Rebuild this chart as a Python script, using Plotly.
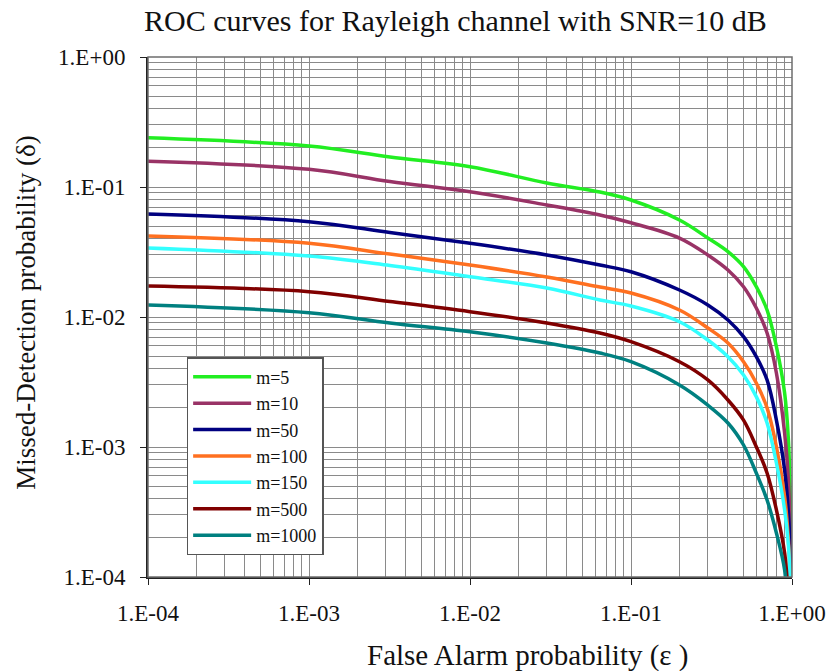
import plotly.graph_objects as go

# ---- data (false-alarm probability, missed-detection probability) ----
labels = ["m=5", "m=10", "m=50", "m=100", "m=150", "m=500", "m=1000"]
colors = ["#22ee22", "#993366", "#000080", "#ff7020", "#33ffff", "#800000", "#008080"]

pfa_m5 = [1e-4, 1e-3, 3.18e-3, 1e-2, 0.03, 0.0641, 0.1, 0.2, 0.3, 0.4, 0.5, 0.6, 0.7, 0.8, 0.9, 0.95, 0.98, 0.995]
pmd_m5 = [0.239, 0.2067, 0.170, 0.1433, 0.1074, 0.0915, 0.0794, 0.0557, 0.0405, 0.0318, 0.0244, 0.0171, 0.01132, 0.00591, 0.00260, 0.00113, 0.0003, 1e-5]

pfa_m10 = [1e-4, 1e-3, 3.18e-3, 1e-2, 0.03, 0.0641, 0.1, 0.2, 0.3, 0.4, 0.5, 0.6, 0.7, 0.8, 0.9, 0.95, 0.98, 0.995]
pmd_m10 = [0.158, 0.1368, 0.1102, 0.0920, 0.0727, 0.0609, 0.0531, 0.0405, 0.0300, 0.0230, 0.0171, 0.01173, 0.00753, 0.00371, 0.00128, 0.000557, 0.00015, 1e-5]

pfa_m50 = [1e-4, 1e-3, 3.18e-3, 1e-2, 0.03, 0.0641, 0.1, 0.2, 0.3, 0.4, 0.5, 0.6, 0.7, 0.8, 0.9, 0.95, 0.98, 0.995]
pmd_m50 = [0.0620, 0.0541, 0.0447, 0.0369, 0.0300, 0.0251, 0.0223, 0.01613, 0.01237, 0.00948, 0.00706, 0.00495, 0.00328, 0.00161, 0.000665, 0.000311, 0.00012, 1e-5]

pfa_m100 = [1e-4, 1e-3, 3.18e-3, 1e-2, 0.03, 0.0641, 0.1, 0.2, 0.3, 0.4, 0.5, 0.6, 0.7, 0.8, 0.9, 0.95, 0.98, 0.995]
pmd_m100 = [0.0420, 0.0369, 0.0305, 0.0251, 0.0203, 0.0170, 0.0153, 0.01132, 0.00823, 0.00631, 0.00453, 0.00311, 0.00200, 0.001005, 0.000415, 0.000193, 0.00008, 1e-5]

pfa_m150 = [1e-4, 1e-3, 3.18e-3, 1e-2, 0.03, 0.0641, 0.1, 0.2, 0.3, 0.4, 0.5, 0.6, 0.7, 0.8, 0.9, 0.95, 0.98, 0.995]
pmd_m150 = [0.0340, 0.0294, 0.0249, 0.0204, 0.0167, 0.01351, 0.01215, 0.00920, 0.00665, 0.00495, 0.00358, 0.00244, 0.00153, 0.000753, 0.000328, 0.000176, 0.00007, 1e-5]

pfa_m500 = [1e-4, 1e-3, 3.18e-3, 1e-2, 0.03, 0.0641, 0.1, 0.2, 0.3, 0.4, 0.5, 0.6, 0.7, 0.8, 0.9, 0.94, 0.97]
pmd_m500 = [0.0173, 0.01565, 0.01316, 0.01099, 0.0090, 0.00753, 0.00646, 0.00453, 0.00328, 0.00230, 0.00161, 0.001005, 0.000631, 0.000328, 0.000153, 0.00008, 1e-5]

pfa_m1000 = [1e-4, 1e-3, 3.18e-3, 1e-2, 0.03, 0.0641, 0.1, 0.2, 0.3, 0.4, 0.5, 0.6, 0.7, 0.8, 0.9, 0.93, 0.96]
pmd_m1000 = [0.01237, 0.01079, 0.0090, 0.0077, 0.0063, 0.00528, 0.00453, 0.00300, 0.00210, 0.00153, 0.001036, 0.000631, 0.000391, 0.000218, 0.000113, 0.00006, 1e-5]

pfa_all = [pfa_m5, pfa_m10, pfa_m50, pfa_m100, pfa_m150, pfa_m500, pfa_m1000]
pmd_all = [pmd_m5, pmd_m10, pmd_m50, pmd_m100, pmd_m150, pmd_m500, pmd_m1000]

tick_vals = [1e-4, 1e-3, 1e-2, 1e-1, 1]
tick_text = ["1.E-04", "1.E-03", "1.E-02", "1.E-01", "1.E+00"]

FONT = "Liberation Serif"
GRID = "#8a8a8a"

fig = go.Figure()
for lab, col, xs, ys in zip(labels, colors, pfa_all, pmd_all):
    fig.add_trace(go.Scatter(x=xs, y=ys, mode="lines", name=lab,
                             line=dict(color=col, width=3.5, shape="spline", smoothing=1.0)))

axis_common = dict(
    type="log", range=[-4, 0], tickvals=tick_vals, ticktext=tick_text,
    showgrid=True, gridcolor=GRID, gridwidth=1,
    minor=dict(dtick="D1", showgrid=True, gridcolor=GRID, gridwidth=1, ticks=""),
    showline=True, linecolor="#222222", linewidth=2,
    ticks="outside", ticklen=6, tickcolor="#222222", tickwidth=1,
    tickfont=dict(family=FONT, size=23, color="#111111"),
    zeroline=False, automargin=False,
)

fig.update_xaxes(**axis_common, ticklabelstandoff=8)
fig.update_yaxes(**axis_common, ticklabelstandoff=10)

fig.add_shape(type="rect", xref="paper", yref="paper", x0=0, y0=0, x1=1, y1=1,
              line=dict(color="#6e6e6e", width=1.5), layer="above")

fig.update_layout(
    width=829, height=671,
    margin=dict(l=148, r=37, t=57, b=94, autoexpand=False),
    paper_bgcolor="white", plot_bgcolor="white",
    font=dict(family=FONT, color="#111111"),
    showlegend=True,
    legend=dict(x=0.06, y=0.423, xanchor="left", yanchor="top",
                bgcolor="white", bordercolor="#555555", borderwidth=1.5,
                font=dict(family=FONT, size=18, color="#111111"),
                itemwidth=58, tracegroupgap=0),
    annotations=[
        dict(text="ROC curves for Rayleigh channel with SNR=10 dB", xref="paper", yref="paper",
             x=0.477, y=1, yshift=37, xanchor="center", yanchor="middle", showarrow=False,
             font=dict(family=FONT, size=30, color="#111111")),
        dict(text="False Alarm probability (ε )", xref="paper", yref="paper",
             x=0.59, y=0, yshift=-78, xanchor="center", yanchor="middle", showarrow=False,
             font=dict(family=FONT, size=29, color="#111111")),
        dict(text="Missed-Detection probability (δ)", xref="paper", yref="paper",
             x=0, xshift=-122, y=0.508, xanchor="center", yanchor="middle", showarrow=False,
             textangle=-90, font=dict(family=FONT, size=27, color="#111111")),
    ],
)

fig.write_html("out.html")
